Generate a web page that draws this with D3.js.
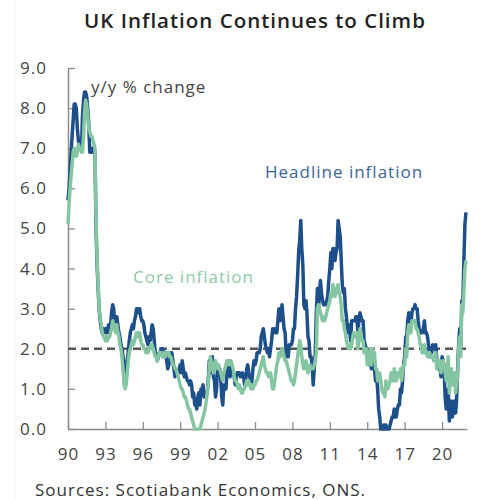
<!DOCTYPE html>
<html>
<head>
<meta charset="utf-8">
<script src="https://cdn.jsdelivr.net/npm/d3@7"></script>
<style>
  body { margin: 0; background: #fff; }
  text { font-family: "Open Sans", sans-serif; letter-spacing: 1px; }
</style>
</head>
<body>
<script>
// chart size
var w = 487;
var h = 500;

// first month of the series (Jan 1990), monthly y/y % change
var startYear = 1990;

// headline CPI, one row per year
var headline = [
  5.7, 6.0, 6.4, 6.9, 7.3, 7.7, 8.1, 8.1, 8.0, 7.5, 7.2, 7.0,
  7.2, 7.0, 7.8, 8.2, 8.4, 8.4, 8.3, 8.0, 7.6, 6.9, 7.0, 6.9,
  7.0, 7.0, 6.9, 5.0, 4.1, 3.5, 3.0, 2.7, 2.5, 2.4, 2.5, 2.5,
  2.4, 2.5, 2.4, 2.6, 2.5, 2.6, 2.9, 3.1, 3.0, 2.6, 2.7, 2.8,
  2.6, 2.4, 2.3, 2.1, 2.0, 1.8, 1.6, 1.4, 1.5, 1.7, 1.9, 2.2,
  2.4, 2.5, 2.6, 2.5, 2.7, 2.8, 3.0, 3.0, 2.9, 3.0, 2.8, 2.7,
  2.7, 2.6, 2.4, 2.3, 2.2, 2.1, 2.3, 2.2, 2.4, 2.6, 2.5, 2.2,
  1.9, 1.8, 1.7, 1.8, 1.9, 1.9, 2.0, 2.0, 1.9, 1.8, 1.9, 1.7,
  1.5, 1.6, 1.7, 1.9, 1.9, 1.7, 1.5, 1.3, 1.4, 1.4, 1.4, 1.5,
  1.6, 1.4, 1.7, 1.5, 1.3, 1.4, 1.3, 1.2, 1.2, 1.1, 1.2, 1.1,
  0.8, 0.9, 0.6, 0.6, 0.5, 0.8, 0.9, 0.6, 1.0, 1.0, 1.1, 0.8,
  0.9, 0.8, 0.9, 1.2, 1.7, 1.7, 1.4, 1.8, 1.3, 1.2, 0.8, 1.0,
  1.6, 1.5, 1.5, 1.3, 0.8, 0.6, 1.1, 1.0, 1.0, 1.4, 1.5, 1.7,
  1.3, 1.6, 1.5, 1.4, 1.3, 1.1, 1.3, 1.4, 1.4, 1.4, 1.3, 1.3,
  1.4, 1.3, 1.1, 1.2, 1.5, 1.6, 1.4, 1.3, 1.1, 1.2, 1.5, 1.7,
  1.6, 1.7, 1.9, 1.9, 1.9, 2.0, 2.3, 2.4, 2.5, 2.3, 2.1, 2.0,
  1.9, 2.0, 1.8, 2.0, 2.2, 2.5, 2.4, 2.5, 2.4, 2.4, 2.7, 3.0,
  2.7, 2.8, 3.1, 2.8, 2.5, 2.4, 1.9, 1.8, 1.8, 2.1, 2.1, 2.1,
  2.2, 2.5, 2.5, 3.0, 3.3, 3.8, 4.4, 4.7, 5.2, 4.5, 4.1, 3.1,
  3.0, 3.2, 2.9, 2.3, 2.2, 1.8, 1.8, 1.6, 1.1, 1.5, 1.9, 2.9,
  3.5, 3.0, 3.4, 3.7, 3.4, 3.2, 3.1, 3.1, 3.1, 3.2, 3.3, 3.7,
  4.0, 4.4, 4.0, 4.5, 4.5, 4.2, 4.4, 4.5, 5.2, 5.0, 4.8, 4.2,
  3.6, 3.4, 3.5, 3.0, 2.8, 2.4, 2.6, 2.5, 2.2, 2.7, 2.7, 2.7,
  2.7, 2.8, 2.8, 2.4, 2.7, 2.9, 2.8, 2.7, 2.7, 2.2, 2.1, 2.0,
  1.9, 1.7, 1.6, 1.8, 1.5, 1.9, 1.6, 1.5, 1.2, 1.3, 1.0, 0.5,
  0.3, 0.0, 0.0, 0.0, 0.1, 0.0, 0.1, 0.0, 0.0, 0.0, 0.1, 0.2,
  0.3, 0.3, 0.5, 0.3, 0.3, 0.5, 0.6, 0.6, 1.0, 0.9, 1.2, 1.6,
  1.8, 2.3, 2.3, 2.7, 2.9, 2.6, 2.6, 2.9, 3.0, 3.0, 3.1, 3.0,
  3.0, 2.7, 2.5, 2.4, 2.4, 2.4, 2.5, 2.7, 2.4, 2.4, 2.3, 2.1,
  1.8, 1.9, 1.9, 2.1, 2.0, 2.0, 2.1, 1.7, 1.7, 1.5, 1.5, 1.3,
  1.8, 1.7, 1.5, 0.8, 0.5, 0.6, 1.0, 0.2, 0.5, 0.7, 0.3, 0.6,
  0.7, 0.4, 0.7, 1.5, 2.1, 2.5, 2.0, 3.2, 3.1, 4.2, 5.1, 5.4
];

// core CPI, one row per year
var core = [
  5.1, 5.6, 6.0, 6.3, 6.6, 6.9, 7.0, 6.9, 6.8, 6.9, 7.1, 7.0,
  7.0, 6.9, 6.9, 7.3, 7.9, 8.2, 8.1, 7.8, 7.5, 7.4, 7.3, 7.3,
  7.2, 7.1, 7.0, 5.2, 4.3, 3.6, 3.0, 2.8, 2.6, 2.4, 2.3, 2.3,
  2.2, 2.3, 2.2, 2.3, 2.3, 2.4, 2.5, 2.7, 2.6, 2.5, 2.4, 2.6,
  2.4, 2.3, 2.1, 2.0, 1.8, 1.5, 1.1, 1.0, 1.1, 1.4, 1.7, 1.9,
  2.0, 2.1, 2.2, 2.1, 2.2, 2.3, 2.4, 2.4, 2.3, 2.4, 2.2, 2.1,
  2.1, 2.0, 2.0, 1.9, 1.9, 1.9, 2.0, 2.0, 2.1, 2.1, 2.0, 1.9,
  1.8, 1.8, 1.7, 1.8, 1.9, 1.9, 1.9, 1.8, 1.9, 1.8, 1.8, 1.9,
  1.9, 1.9, 1.8, 1.8, 1.7, 1.6, 1.6, 1.5, 1.5, 1.4, 1.3, 1.2,
  1.1, 1.0, 1.0, 0.9, 0.8, 0.8, 0.7, 0.6, 0.5, 0.5, 0.4, 0.3,
  0.2, 0.1, 0.0, 0.0, 0.0, 0.0, 0.0, 0.0, 0.1, 0.2, 0.3, 0.4,
  0.5, 0.7, 0.9, 1.1, 1.5, 1.8, 1.7, 1.5, 1.4, 1.6, 1.7, 1.6,
  1.5, 1.6, 1.5, 1.4, 1.3, 1.2, 1.4, 1.5, 1.6, 1.7, 1.7, 1.6,
  1.7, 1.7, 1.6, 1.5, 1.3, 1.2, 1.2, 1.1, 1.0, 1.1, 1.0, 0.9,
  0.9, 1.0, 1.0, 1.1, 1.2, 1.1, 1.2, 1.1, 1.0, 1.1, 1.0, 1.1,
  1.1, 1.2, 1.2, 1.3, 1.4, 1.5, 1.6, 1.7, 1.8, 1.6, 1.5, 1.4,
  1.4, 1.3, 1.3, 1.4, 1.2, 1.0, 1.0, 1.2, 1.4, 1.6, 1.7, 1.9,
  1.8, 1.9, 2.0, 1.9, 1.8, 1.7, 1.7, 1.6, 1.5, 1.4, 1.3, 1.2,
  1.2, 1.1, 1.2, 1.4, 1.6, 1.8, 2.0, 2.2, 2.1, 1.8, 1.6, 1.5,
  1.6, 1.7, 1.5, 1.4, 1.5, 1.6, 1.5, 1.5, 1.5, 1.6, 1.7, 1.9,
  3.0, 3.1, 3.0, 2.9, 2.8, 2.7, 2.8, 2.7, 2.8, 2.9, 3.0, 3.1,
  3.2, 3.4, 3.3, 3.6, 3.5, 3.3, 3.4, 3.5, 3.6, 3.4, 3.3, 3.1,
  2.7, 2.7, 2.5, 2.4, 2.2, 2.1, 2.0, 2.1, 2.0, 2.1, 2.3, 2.4,
  2.3, 2.3, 2.4, 2.0, 2.2, 2.5, 2.4, 2.2, 2.2, 1.9, 1.9, 2.0,
  1.6, 1.7, 1.6, 2.0, 1.6, 2.0, 1.8, 1.9, 1.5, 1.5, 1.2, 1.3,
  1.4, 1.2, 1.0, 0.9, 0.9, 0.8, 1.2, 1.0, 1.0, 1.1, 1.2, 1.4,
  1.2, 1.2, 1.5, 1.2, 1.2, 1.4, 1.3, 1.3, 1.5, 1.2, 1.4, 1.6,
  1.6, 2.0, 1.8, 2.4, 2.6, 2.4, 2.4, 2.7, 2.7, 2.7, 2.7, 2.5,
  2.5, 2.4, 2.3, 2.1, 2.1, 1.9, 1.9, 2.1, 1.9, 1.9, 1.8, 1.9,
  1.9, 1.8, 1.8, 1.8, 1.7, 1.8, 1.9, 1.5, 1.7, 1.7, 1.7, 1.4,
  1.6, 1.7, 1.6, 1.4, 1.2, 1.4, 1.8, 0.9, 1.3, 1.5, 1.1, 1.4,
  1.4, 0.9, 1.1, 1.3, 2.0, 2.3, 1.8, 3.1, 2.9, 3.4, 4.0, 4.2
];

var yTicks = [0, 1, 2, 3, 4, 5, 6, 7, 8, 9];
var xTickYears = [1990, 1993, 1996, 1999, 2002, 2005, 2008, 2011, 2014, 2017, 2020];
var target = 2.0;

var blue = "#1d4f8a";
var green = "#84c5a2";

var svg = d3.select("body")
  .append("svg")
  .attr("width", w)
  .attr("height", h);

// faint frame on the left
svg.append("line")
  .attr("x1", 14.5).attr("x2", 14.5)
  .attr("y1", 0).attr("y2", h)
  .attr("stroke", "#f2f2f2");

var x = d3.scaleTime()
  .domain([new Date(startYear, 0, 1), new Date(2022, 0, 1)])
  .range([68, 467]);

var y = d3.scaleLinear()
  .domain([0, 9])
  .range([429, 68]);

function toPoints(arr) {
  return arr.map(function(v, i) {
    return { date: new Date(startYear, i, 1), value: v };
  });
}

// title
svg.append("text")
  .attr("x", 255)
  .attr("y", 28)
  .attr("text-anchor", "middle")
  .attr("font-size", 20.5)
  .attr("font-weight", 600)
  .attr("fill", "#222")
  .text("UK Inflation Continues to Climb");

// axes
var yAxis = svg.append("g")
  .attr("transform", "translate(68,0)")
  .call(d3.axisLeft(y)
    .tickValues(yTicks)
    .tickSize(-7)
    .tickSizeOuter(0)
    .tickPadding(21)
    .tickFormat(d3.format(".1f")));

var xAxis = svg.append("g")
  .attr("transform", "translate(0,429)")
  .call(d3.axisBottom(x)
    .tickValues(xTickYears.map(function(yr) { return new Date(yr, 0, 1); }))
    .tickSize(-7)
    .tickSizeOuter(0)
    .tickPadding(19)
    .tickFormat(d3.timeFormat("%y")));

[yAxis, xAxis].forEach(function(g) {
  g.select(".domain").attr("stroke", "#8a8a8a").attr("stroke-width", 1.5);
  g.selectAll(".tick line").attr("stroke", "#8a8a8a").attr("stroke-width", 1.3);
  g.selectAll(".tick text")
    .attr("font-family", "'Open Sans', sans-serif")
    .attr("font-size", 17)
    .attr("fill", "#444");
});

// 2% reference
svg.append("line")
  .attr("x1", x.range()[0])
  .attr("x2", x.range()[1])
  .attr("y1", y(target))
  .attr("y2", y(target))
  .attr("stroke", "#555")
  .attr("stroke-width", 2.5)
  .attr("stroke-dasharray", "8,5");

var line = d3.line()
  .x(function(d) { return x(d.date); })
  .y(function(d) { return y(d.value); });

svg.append("path")
  .datum(toPoints(headline))
  .attr("d", line)
  .attr("fill", "none")
  .attr("stroke", blue)
  .attr("stroke-width", 3.5)
  .attr("stroke-linejoin", "round");

svg.append("path")
  .datum(toPoints(core))
  .attr("d", line)
  .attr("fill", "none")
  .attr("stroke", green)
  .attr("stroke-width", 3.5)
  .attr("stroke-linejoin", "round");

// labels
svg.append("text")
  .attr("x", 91).attr("y", 93)
  .attr("font-size", 17)
  .attr("fill", "#444")
  .text("y/y % change");

svg.append("text")
  .attr("x", 265).attr("y", 178)
  .attr("font-size", 17)
  .attr("fill", "#3a6599")
  .text("Headline inflation");

svg.append("text")
  .attr("x", 133).attr("y", 283)
  .attr("font-size", 17)
  .attr("fill", "#8fcaa9")
  .text("Core inflation");

svg.append("text")
  .attr("x", 35).attr("y", 496)
  .attr("font-size", 17)
  .attr("fill", "#333")
  .text("Sources: Scotiabank Economics, ONS.");
</script>
</body>
</html>
